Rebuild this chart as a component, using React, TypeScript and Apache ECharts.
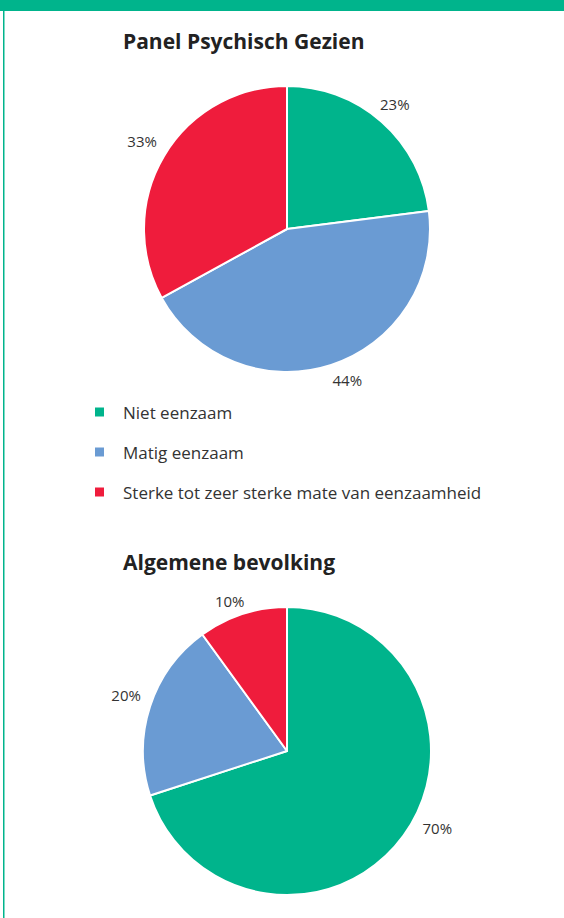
import React, { useEffect, useRef } from "react";
import * as echarts from "echarts";

const categories = ["Niet eenzaam", "Matig eenzaam", "Sterke tot zeer sterke mate van eenzaamheid"];
const panelValues = [23, 44, 33];
const generalValues = [70, 20, 10];
const chartTitles = ["Panel Psychisch Gezien", "Algemene bevolking"];
const colors = ["#00b48c", "#6a9bd3", "#ef1c3c"];
const panelLabelOffsets = [[-2, 0], [9, -7], [-2, -3]];
const generalLabelOffsets = [[16, -21], [-3, -5], [-6, 8]];

const FONT = "'Open Sans', 'Noto Sans', sans-serif";

export default function App() {
  const ref = useRef<HTMLDivElement>(null);
  useEffect(() => {
    if (!ref.current) return;
    const chart = echarts.init(ref.current, null, { renderer: "svg" });

    const mkData = (vals: number[]) =>
      vals.map((v, i) => ({ name: categories[i], value: v, itemStyle: { color: colors[i] } }));

    const mkLabelData = (vals: number[], offs: number[][]) =>
      vals.map((v, i) => ({
        name: categories[i],
        value: v,
        label: { offset: offs[i] },
      }));

    const pieBase = {
      type: "pie",
      startAngle: 90,
      clockwise: true,
      silent: true,
      emphasis: { disabled: true },
      legendHoverLink: false,
    };

    const labelStyle = {
      show: true,
      position: "inside",
      formatter: "{c}%",
      fontFamily: FONT,
      fontSize: 15,
      color: "#333",
    };

    chart.setOption({
      animation: false,
      backgroundColor: "#ffffff",
      title: [
        {
          text: chartTitles[0],
          left: 118,
          top: 25,
          textStyle: { fontFamily: FONT, fontSize: 21, fontWeight: "bold", color: "#222" },
        },
        {
          text: chartTitles[1],
          left: 118,
          top: 546,
          textStyle: { fontFamily: FONT, fontSize: 21, fontWeight: "bold", color: "#222" },
        },
      ],
      legend: {
        orient: "vertical",
        left: 88,
        top: 397,
        itemWidth: 11,
        itemHeight: 11,
        itemGap: 20,
        icon: "rect",
        selectedMode: false,
        data: categories,
        textStyle: { fontFamily: FONT, fontSize: 17, color: "#333", padding: [0, 0, 0, 13], lineHeight: 20 },
      },
      graphic: [
        { type: "rect", shape: { x: 0, y: 0, width: 564, height: 11 }, style: { fill: "#00b48c" }, silent: true },
        { type: "rect", shape: { x: 3, y: 10, width: 1.5, height: 908 }, style: { fill: "#00b48c" }, silent: true },
      ],
      series: [
        {
          ...pieBase,
          name: chartTitles[0],
          center: [287, 229],
          radius: [0, 143],
          itemStyle: { borderColor: "#fff", borderWidth: 2 },
          label: { show: false },
          labelLine: { show: false },
          data: mkData(panelValues),
        },
        {
          ...pieBase,
          name: chartTitles[0] + " labels",
          center: [287, 229],
          radius: [150, 176],
          itemStyle: { color: "rgba(0,0,0,0)", borderWidth: 0 },
          label: labelStyle,
          labelLine: { show: false },
          data: mkLabelData(panelValues, panelLabelOffsets),
        },
        {
          ...pieBase,
          name: chartTitles[1],
          center: [287, 751],
          radius: [0, 144],
          itemStyle: { borderColor: "#fff", borderWidth: 2 },
          label: { show: false },
          labelLine: { show: false },
          data: mkData(generalValues),
        },
        {
          ...pieBase,
          name: chartTitles[1] + " labels",
          center: [287, 751],
          radius: [150, 176],
          itemStyle: { color: "rgba(0,0,0,0)", borderWidth: 0 },
          label: labelStyle,
          labelLine: { show: false },
          data: mkLabelData(generalValues, generalLabelOffsets),
        },
      ],
    });
    return () => chart.dispose();
  }, []);

  return (
    <div
      ref={ref}
      style={{ position: "absolute", left: 0, top: 0, width: 564, height: 918 }}
    />
  );
}
